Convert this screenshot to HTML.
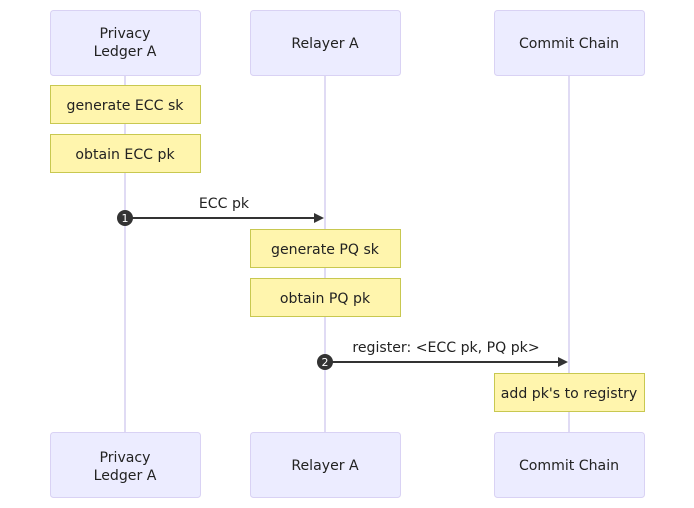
<!DOCTYPE html>
<html><head><style>body{margin:0;background:#fff}svg{display:block}</style></head>
<body>
<svg width="694" height="508" xmlns="http://www.w3.org/2000/svg" font-family="'DejaVu Sans',sans-serif" font-size="14.1" fill="#333">
<g stroke="#d6cff0" stroke-width="1.5">
<line x1="125" y1="75" x2="125" y2="432"/>
<line x1="325" y1="75" x2="325" y2="432"/>
<line x1="569" y1="75" x2="569" y2="432"/>
</g>
<g fill="#ececff" stroke="#d9d2f4" stroke-width="1">
<rect x="50.5" y="10.5" width="150" height="65" rx="3"/>
<rect x="250.5" y="10.5" width="150" height="65" rx="3"/>
<rect x="494.5" y="10.5" width="150" height="65" rx="3"/>
<rect x="50.5" y="432.5" width="150" height="65" rx="3"/>
<rect x="250.5" y="432.5" width="150" height="65" rx="3"/>
<rect x="494.5" y="432.5" width="150" height="65" rx="3"/>
</g>
<g text-anchor="middle" fill="#222">
<text x="125" y="38">Privacy</text><text x="125" y="56">Ledger A</text>
<text x="325" y="48">Relayer A</text>
<text x="569" y="48">Commit Chain</text>
<text x="125" y="462">Privacy</text><text x="125" y="480">Ledger A</text>
<text x="325" y="470">Relayer A</text>
<text x="569" y="470">Commit Chain</text>
</g>
<g fill="#fff5ad" stroke="#c8c850" stroke-width="1">
<rect x="50.5" y="85.5" width="150" height="38"/>
<rect x="50.5" y="134.5" width="150" height="38"/>
<rect x="250.5" y="229.5" width="150" height="38"/>
<rect x="250.5" y="278.5" width="150" height="38"/>
<rect x="494.5" y="373.5" width="150" height="38"/>
</g>
<g text-anchor="middle" fill="#222">
<text x="125" y="110">generate ECC sk</text>
<text x="125" y="159">obtain ECC pk</text>
<text x="325" y="254">generate PQ sk</text>
<text x="325" y="303">obtain PQ pk</text>
<text x="569" y="398">add pk's to registry</text>
<text x="224" y="208">ECC pk</text>
<text x="446" y="352">register: &lt;ECC pk, PQ pk&gt;</text>
</g>
<g stroke="#333" stroke-width="2">
<line x1="125" y1="218" x2="316" y2="218"/>
<line x1="325" y1="362" x2="560" y2="362"/>
</g>
<polygon points="314,213 324,218 314,223" fill="#333"/>
<polygon points="558,357 568,362 558,367" fill="#333"/>
<circle cx="125" cy="218" r="8" fill="#333"/>
<circle cx="325" cy="362" r="8" fill="#333"/>
<text x="125" y="222" font-size="11" fill="#fff" text-anchor="middle">1</text>
<text x="325" y="366" font-size="11" fill="#fff" text-anchor="middle">2</text>
</svg>
</body></html>
